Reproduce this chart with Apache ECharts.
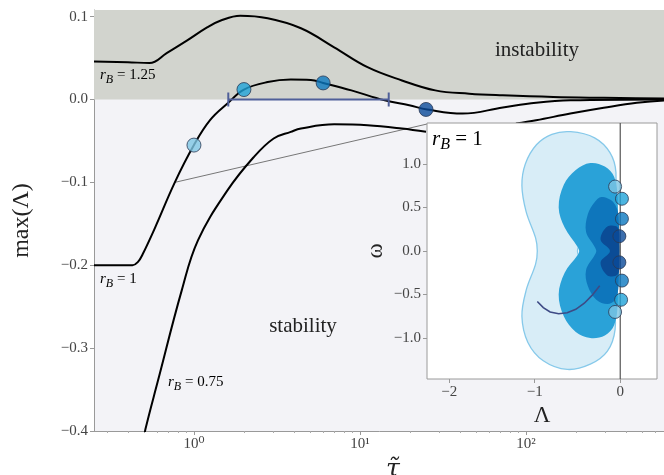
<!DOCTYPE html>
<html><head><meta charset="utf-8">
<script src="https://cdn.jsdelivr.net/npm/echarts@6/dist/echarts.min.js"></script>
<style>html,body{margin:0;padding:0;background:#fff}#c{width:664px;height:475px}</style>
</head><body><div id="c"></div>
<script>
// ---- main panel data (tau, max Lambda) ----
const tau125 = [0.25, 0.40, 0.54, 0.685, 0.906, 1.20, 1.44, 1.9, 2.78, 4.41, 6.99, 11.1, 17.9, 28.4, 45.5, 72.5, 146, 294, 718, 1000];
const lam125 = [0.046, 0.045, 0.044, 0.056, 0.071, 0.087, 0.095, 0.101, 0.098, 0.086, 0.063, 0.039, 0.023, 0.011, 0.007, 0.005, 0.003, 0.002, 0.001, 0.0006];
const tau100 = [0.25, 0.426, 0.46, 0.49, 0.579, 0.767, 1.0, 1.25, 1.61, 2.0, 2.78, 3.83, 5.06, 6.0, 8.88, 14.1, 19.8, 25.4, 41.5, 72.5, 115, 185, 718, 1000];
const lam100 = [-0.2, -0.2, -0.196, -0.187, -0.156, -0.100, -0.055, -0.025, -0.004, 0.012, 0.021, 0.024, 0.0236, 0.020, 0.011, -0.001, -0.007, -0.012, -0.017, -0.0097, -0.004, -0.001, 0, 0];
const tau075a = [0.50, 0.51, 0.604, 0.845, 1.057, 1.587, 2.28, 3.02, 3.83, 4.41, 6.99, 11.1, 17.9, 25.0];
const lam075a = [-0.41, -0.398, -0.341, -0.230, -0.170, -0.110, -0.070, -0.047, -0.039, -0.035, -0.030, -0.031, -0.035, -0.039];
const tau075b = [87, 115, 185, 294, 465, 718, 1000];
const lam075b = [-0.029, -0.025, -0.017, -0.010, -0.004, -0.001, -0.0005];
const markTau = [1, 2, 6, 25];
const markLam = [-0.055, 0.012, 0.020, -0.012];
const markColors = ['#7ec6e4', '#1fa2d8', '#0b78bf', '#0a4a98'];
const rangeTau = [1.61, 14.9];
const connectorTau = [0.767, 26.1];
const connectorLam = [-0.100, -0.029];
const yTicks = [-0.4, -0.3, -0.2, -0.1, 0, 0.1];
const xTicks = [1, 10, 100];
const xMinorTicks = [0.3,0.4,0.5,0.6,0.7,0.8,0.9,2,3,4,5,6,7,8,9,20,30,40,50,60,70,80,90,200,300,400,500,600,700,800,900];

// ---- inset data (Lambda, omega) ----
const blobLight = [[-0.58,1.37],[-0.30,1.30],[-0.12,1.13],[-0.05,0.90],[-0.09,0.62],[-0.28,0.32],[-0.46,0.10],[-0.50,0.0],[-0.46,-0.10],[-0.28,-0.33],[-0.09,-0.63],[-0.06,-0.90],[-0.15,-1.15],[-0.35,-1.30],[-0.62,-1.36],[-0.90,-1.26],[-1.08,-1.05],[-1.15,-0.75],[-1.10,-0.45],[-0.99,-0.15],[-0.97,0.0],[-0.99,0.15],[-1.10,0.45],[-1.15,0.75],[-1.11,1.0],[-0.98,1.22],[-0.80,1.34]];
const blobMid = [[-0.35,1.01],[-0.18,0.97],[-0.07,0.85],[-0.03,0.6],[-0.03,0],[-0.03,-0.6],[-0.07,-0.85],[-0.18,-0.97],[-0.35,-1.0],[-0.52,-0.93],[-0.66,-0.75],[-0.72,-0.5],[-0.65,-0.25],[-0.50,-0.05],[-0.48,0],[-0.50,0.05],[-0.65,0.27],[-0.72,0.5],[-0.66,0.76],[-0.52,0.93]];
const blobDark = [[-0.22,0.62],[-0.08,0.56],[-0.02,0.4],[-0.02,-0.4],[-0.06,-0.56],[-0.15,-0.61],[-0.28,-0.56],[-0.38,-0.4],[-0.40,-0.22],[-0.30,-0.05],[-0.28,0],[-0.30,0.05],[-0.40,0.22],[-0.38,0.42],[-0.30,0.56]];
const blobDarkest = [[-0.15,0.28],[-0.03,0.27],[-0.01,0.1],[-0.01,-0.1],[-0.03,-0.27],[-0.15,-0.28],[-0.23,-0.13],[-0.12,0],[-0.23,0.13]];
const eigLam = [-0.06, 0.02, 0.02, -0.01, -0.01, 0.02, 0.01, -0.06];
const eigOmega = [0.74, 0.60, 0.37, 0.17, -0.13, -0.34, -0.56, -0.70];
const eigColors = ['#7ec6e4', '#1fa2d8', '#0b78bf', '#0a4a98', '#0a4a98', '#0b78bf', '#1fa2d8', '#7ec6e4'];
const arrowLam = [-0.97, -0.90, -0.82, -0.72, -0.62, -0.52, -0.42, -0.33, -0.24];
const arrowOmega = [-0.58, -0.65, -0.70, -0.72, -0.71, -0.67, -0.60, -0.51, -0.40];
const insetXTicks = [-2, -1, 0];
const insetYTicks = [-1, -0.5, 0, 0.5, 1];

const FONT = "'Liberation Serif','DejaVu Serif',serif";
const zip = (a, b) => a.map((v, i) => [v, b[i]]);
const fmt = v => (v < -1e-9 ? '\u2212' : '') + Math.abs(v).toFixed(1);
const fmtInt = v => (v < -1e-9 ? '\u2212' : '') + Math.abs(Math.round(v));
const sup = {0: '10\u2070', 1: '10\u00b9', 2: '10\u00b2'};

function blob(pts, fill, stroke, z) {
  return {
    type: 'custom', xAxisIndex: 2, yAxisIndex: 1, z: z, silent: true,
    data: pts, encode: {x: 0, y: 1},
    renderItem: (params, api) => {
      if (params.dataIndex !== 0) return null;
      const points = pts.map(p => api.coord(p));
      return {type: 'polygon', shape: {points: points, smooth: 0.35},
        style: {fill: fill, stroke: stroke || null, lineWidth: 1.3}};
    }
  };
}
const blackLine = (data) => ({type: 'line', xAxisIndex: 0, yAxisIndex: 0, data: data, showSymbol: false,
  smooth: 0.4, lineStyle: {color: '#000', width: 2}, z: 3, silent: true});

const chart = echarts.init(document.getElementById('c'), null, {renderer: 'canvas'});
chart.setOption({
  animation: false,
  backgroundColor: '#ffffff',
  textStyle: {fontFamily: FONT},
  grid: [
    {left: 94, top: 10, width: 598, height: 421, show: true, backgroundColor: '#f3f3f7', borderWidth: 0, containLabel: false, outerBoundsMode: 'none'},
    {left: 427, top: 123, width: 230, height: 256, show: true, backgroundColor: '#ffffff', borderColor: '#9a9a9a', borderWidth: 1, z: 10, containLabel: false, outerBoundsMode: 'none'}
  ],
  xAxis: [
    {type: 'log', gridIndex: 0, min: 0.25, max: 1000, position: 'bottom',
      axisLine: {show: true, onZero: false, lineStyle: {color: '#999', width: 1}},
      axisTick: {show: true, length: 4, lineStyle: {color: '#999'}, customValues: xTicks},
      axisLabel: {customValues: xTicks, color: '#444', fontSize: 15, fontFamily: FONT, margin: 6,
        formatter: v => sup[Math.round(Math.log10(v))]},
      splitLine: {show: false}, minorTick: {show: false},
      name: '\u03c4\u0303', nameLocation: 'middle', nameGap: 18,
      nameTextStyle: {fontSize: 25, color: '#222', fontFamily: "'DejaVu Serif',serif", fontStyle: 'italic'}},
    {type: 'log', gridIndex: 0, min: 0.25, max: 1000, position: 'bottom',
      axisLine: {show: false, onZero: false},
      axisTick: {show: true, length: 2, lineStyle: {color: '#aaa'}, customValues: xMinorTicks},
      axisLabel: {show: false}, splitLine: {show: false}},
    {type: 'value', gridIndex: 1, min: -2.26, max: 0.43, z: 12, position: 'bottom',
      axisLine: {show: false, onZero: false},
      axisTick: {show: true, length: 4, lineStyle: {color: '#999'}, customValues: insetXTicks},
      axisLabel: {customValues: insetXTicks, color: '#444', fontSize: 15, fontFamily: FONT, margin: 6, formatter: fmtInt},
      splitLine: {show: false},
      name: '\u039b', nameLocation: 'middle', nameGap: 18,
      nameTextStyle: {fontSize: 23, color: '#222', fontFamily: FONT}}
  ],
  yAxis: [
    {type: 'value', gridIndex: 0, min: -0.4, max: 0.108, position: 'left',
      axisLine: {show: true, onZero: false, lineStyle: {color: '#999', width: 1}},
      axisTick: {show: true, length: 4, lineStyle: {color: '#999'}, customValues: yTicks},
      axisLabel: {customValues: yTicks, color: '#444', fontSize: 15, fontFamily: FONT, margin: 6, formatter: fmt},
      splitLine: {show: false},
      name: 'max(\u039b)', nameLocation: 'middle', nameGap: 60,
      nameTextStyle: {fontSize: 24, color: '#222', fontFamily: FONT}},
    {type: 'value', gridIndex: 1, min: -1.47, max: 1.47, z: 12, position: 'left',
      axisLine: {show: false, onZero: false},
      axisTick: {show: true, length: 4, lineStyle: {color: '#999'}, customValues: insetYTicks},
      axisLabel: {customValues: insetYTicks, color: '#444', fontSize: 15, fontFamily: FONT, margin: 6, formatter: fmt},
      splitLine: {show: false},
      name: '\u03c9', nameLocation: 'middle', nameGap: 40,
      nameTextStyle: {fontSize: 23, color: '#222', fontFamily: FONT}}
  ],
  series: [
    Object.assign(blackLine(zip(tau125, lam125)), {
      markArea: {silent: true, itemStyle: {color: '#d2d4ce'}, data: [[{yAxis: 0}, {yAxis: 0.108}]]}
    }),
    blackLine(zip(tau100, lam100)),
    blackLine(zip(tau075a, lam075a)),
    blackLine(zip(tau075b, lam075b)),
    {type: 'line', xAxisIndex: 0, yAxisIndex: 0, data: zip(connectorTau, connectorLam), showSymbol: false,
      lineStyle: {color: '#777', width: 1}, z: 2, silent: true},
    {type: 'line', xAxisIndex: 0, yAxisIndex: 0, data: rangeTau.map(t => [t, 0]), showSymbol: true,
      symbol: 'rect', symbolSize: [2, 14], itemStyle: {color: '#4f5f99'},
      lineStyle: {color: '#4f5f99', width: 2}, z: 4, silent: true},
    {type: 'scatter', xAxisIndex: 0, yAxisIndex: 0, symbolSize: 14, z: 5, silent: true,
      data: markTau.map((t, i) => ({value: [t, markLam[i]], itemStyle: {color: markColors[i], borderColor: '#2a3a55', borderWidth: 1}}))},
    blob(blobLight, '#d8edf7', '#86c9ea', 13),
    blob(blobMid, '#2aa2d8', null, 14),
    blob(blobDark, '#0e76bc', null, 15),
    blob(blobDarkest, '#0b4c96', null, 16),
    {type: 'line', xAxisIndex: 2, yAxisIndex: 1, data: [[0, -1.47], [0, 1.47]], showSymbol: false,
      lineStyle: {color: '#555', width: 1.2}, z: 17, silent: true},
    {type: 'lines', coordinateSystem: 'cartesian2d', xAxisIndex: 2, yAxisIndex: 1, polyline: true, z: 18,
      symbol: ['none', 'arrow'], symbolSize: 9, silent: true,
      lineStyle: {color: '#3d4a85', width: 1.6, opacity: 1},
      data: [{coords: zip(arrowLam, arrowOmega)}]},
    {type: 'scatter', xAxisIndex: 2, yAxisIndex: 1, symbolSize: 13, z: 19, silent: true,
      data: eigLam.map((l, i) => ({value: [l, eigOmega[i]], itemStyle: {color: eigColors[i], borderColor: '#2a3a55', borderWidth: 1}}))}
  ],
  graphic: [
    {type: 'text', x: 537, y: 50, z: 100, style: {text: 'instability', font: '21px ' + FONT, fill: '#222', align: 'center', verticalAlign: 'middle'}},
    {type: 'text', x: 303, y: 326, z: 100, style: {text: 'stability', font: '21px ' + FONT, fill: '#222', align: 'center', verticalAlign: 'middle'}},
    {type: 'text', x: 100, y: 75, z: 100, style: {text: '{i|r}{s|B}{n| = 1.25}', verticalAlign: 'middle',
      rich: {i: {fontFamily: FONT, fontStyle: 'italic', fontSize: 15, color: '#333'}, s: {fontFamily: FONT, fontStyle: 'italic', fontSize: 12, color: '#333', padding: [9, 0, 0, 0]}, n: {fontFamily: FONT, fontSize: 15, color: '#333'}}}},
    {type: 'text', x: 100, y: 279, z: 100, style: {text: '{i|r}{s|B}{n| = 1}', verticalAlign: 'middle',
      rich: {i: {fontFamily: FONT, fontStyle: 'italic', fontSize: 15, color: '#333'}, s: {fontFamily: FONT, fontStyle: 'italic', fontSize: 12, color: '#333', padding: [9, 0, 0, 0]}, n: {fontFamily: FONT, fontSize: 15, color: '#333'}}}},
    {type: 'text', x: 168, y: 382, z: 100, style: {text: '{i|r}{s|B}{n| = 0.75}', verticalAlign: 'middle',
      rich: {i: {fontFamily: FONT, fontStyle: 'italic', fontSize: 15, color: '#333'}, s: {fontFamily: FONT, fontStyle: 'italic', fontSize: 12, color: '#333', padding: [9, 0, 0, 0]}, n: {fontFamily: FONT, fontSize: 15, color: '#333'}}}},
    {type: 'text', x: 432, y: 139, z: 100, style: {text: '{i|r}{s|B}{n| = 1}', verticalAlign: 'middle',
      rich: {i: {fontFamily: FONT, fontStyle: 'italic', fontSize: 21, color: '#222'}, s: {fontFamily: FONT, fontStyle: 'italic', fontSize: 16, color: '#222', padding: [12, 0, 0, 0]}, n: {fontFamily: FONT, fontSize: 21, color: '#222'}}}}
  ]
});
</script></body></html>
